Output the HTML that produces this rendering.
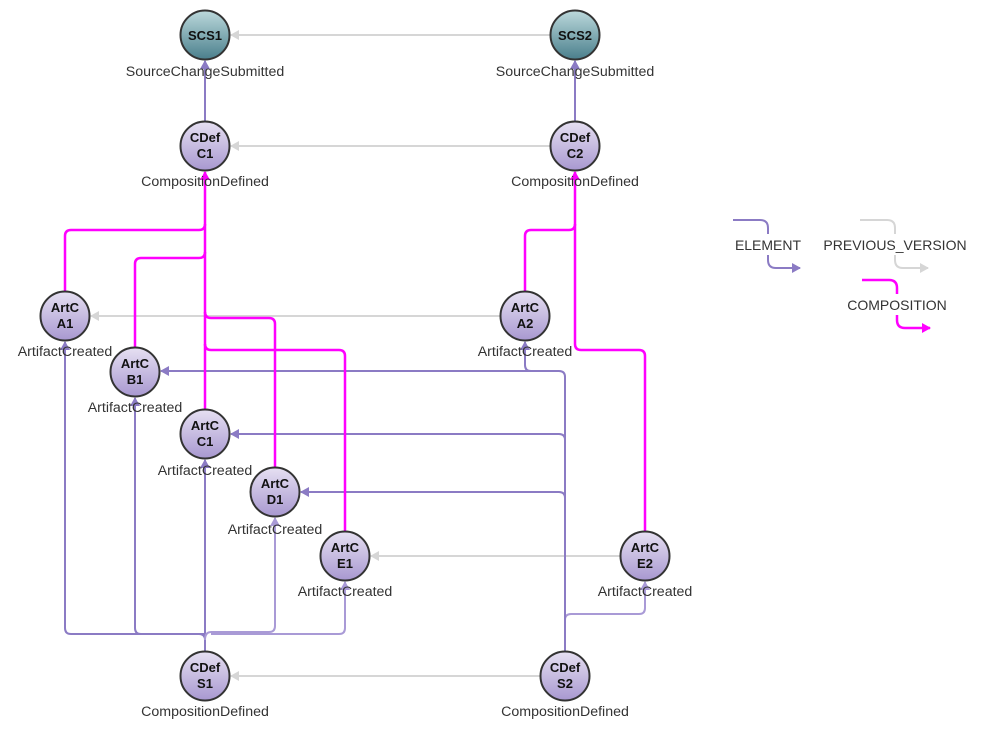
<!DOCTYPE html>
<html><head><meta charset="utf-8"><style>
html,body{margin:0;padding:0;background:#fff;width:985px;height:738px;overflow:hidden}
svg{display:block}
text{font-family:"Liberation Sans",Arial,sans-serif}
.lbl{font-size:14.2px;fill:#333;text-anchor:middle}
.nt{font-size:13px;font-weight:bold;fill:#111;text-anchor:middle}
.p{fill:none;stroke:#8b7bc4;stroke-width:2}
.pl{fill:none;stroke:#a99ad6;stroke-width:2}
.g{fill:none;stroke:#d6d6d6;stroke-width:2}
.m{fill:none;stroke:#ff00ff;stroke-width:2.5}
.leg{font-size:14px;fill:#333;text-anchor:middle}
</style></head><body>
<svg width="985" height="738" viewBox="0 0 985 738">
<defs>
<linearGradient id="lav" x1="0" y1="0" x2="0" y2="1"><stop offset="0" stop-color="#e6e0f2"/><stop offset="1" stop-color="#a898d0"/></linearGradient>
<linearGradient id="teal" x1="0" y1="0" x2="0" y2="1"><stop offset="0" stop-color="#bcd9dc"/><stop offset="1" stop-color="#4a7f8c"/></linearGradient>
<marker id="ap" markerWidth="10" markerHeight="10" refX="8" refY="5" orient="auto" markerUnits="userSpaceOnUse"><path d="M0,0 L9,5 L0,10 Z" fill="#8b7bc4"/></marker>
<marker id="apl" markerWidth="10" markerHeight="10" refX="8" refY="5" orient="auto" markerUnits="userSpaceOnUse"><path d="M0,0 L9,5 L0,10 Z" fill="#a99ad6"/></marker>
<marker id="ag" markerWidth="10" markerHeight="10" refX="8" refY="5" orient="auto" markerUnits="userSpaceOnUse"><path d="M0,0 L9,5 L0,10 Z" fill="#d6d6d6"/></marker>
<marker id="am" markerWidth="10" markerHeight="10" refX="8" refY="5" orient="auto" markerUnits="userSpaceOnUse"><path d="M0,0 L9,5 L0,10 Z" fill="#ff00ff"/></marker>
</defs>

<path class="g" d="M551,35 L231,35" marker-end="url(#ag)"/>
<path class="g" d="M551,146 L231,146" marker-end="url(#ag)"/>
<path class="g" d="M501,316 L91,316" marker-end="url(#ag)"/>
<path class="g" d="M621,556 L371,556" marker-end="url(#ag)"/>
<path class="g" d="M541,676 L231,676" marker-end="url(#ag)"/>

<path class="p" d="M205,122 L205,61" marker-end="url(#ap)"/>
<path class="p" d="M575,122 L575,61" marker-end="url(#ap)"/>
<path class="p" d="M205,652 L205,640 Q205,634 199,634 L71,634 Q65,634 65,628 L65,342" marker-end="url(#ap)"/>
<path class="p" d="M205,634 L141,634 Q135,634 135,628 L135,398" marker-end="url(#ap)"/>
<path class="p" d="M205,652 L205,460" marker-end="url(#ap)"/>
<path class="pl" d="M205,640 Q205,632 211,632 L269,632 Q275,632 275,626 L275,518" marker-end="url(#apl)"/>
<path class="pl" d="M211,634 L339,634 Q345,634 345,628 L345,582" marker-end="url(#apl)"/>
<path class="pl" d="M565,652 L565,620 Q565,614 571,614 L639,614 Q645,614 645,608 L645,582" marker-end="url(#apl)"/>
<path class="p" d="M565,652 L565,498 Q565,492 559,492 L301,492" marker-end="url(#ap)"/>
<path class="p" d="M565,500 L565,440 Q565,434 559,434 L231,434" marker-end="url(#ap)"/>
<path class="p" d="M565,440 L565,377 Q565,371 559,371 L161,371" marker-end="url(#ap)"/>
<path class="p" d="M531,371 Q525,371 525,365 L525,342" marker-end="url(#ap)"/>

<path class="m" d="M65,292 L65,236 Q65,230 71,230 L199,230 Q205,230 205,224" />
<path class="m" d="M135,348 L135,264 Q135,258 141,258 L199,258 Q205,258 205,252" />
<path class="m" d="M205,410 L205,172" marker-end="url(#am)"/>
<path class="m" d="M275,468 L275,324 Q275,318 269,318 L211,318 Q205,318 205,312" />
<path class="m" d="M345,532 L345,356 Q345,350 339,350 L211,350 Q205,350 205,344" />
<path class="m" d="M525,292 L525,236 Q525,230 531,230 L569,230 Q575,230 575,224" />
<path class="m" d="M645,532 L645,356 Q645,350 639,350 L581,350 Q575,350 575,344 L575,172" marker-end="url(#am)"/>

<g stroke="#333" stroke-width="2">
<circle cx="205" cy="35" r="24.5" fill="url(#teal)"/>
<circle cx="575" cy="35" r="24.5" fill="url(#teal)"/>
<circle cx="205" cy="146" r="24.5" fill="url(#lav)"/>
<circle cx="575" cy="146" r="24.5" fill="url(#lav)"/>
<circle cx="65" cy="316" r="24.5" fill="url(#lav)"/>
<circle cx="525" cy="316" r="24.5" fill="url(#lav)"/>
<circle cx="135" cy="372" r="24.5" fill="url(#lav)"/>
<circle cx="205" cy="434" r="24.5" fill="url(#lav)"/>
<circle cx="275" cy="492" r="24.5" fill="url(#lav)"/>
<circle cx="345" cy="556" r="24.5" fill="url(#lav)"/>
<circle cx="645" cy="556" r="24.5" fill="url(#lav)"/>
<circle cx="205" cy="676" r="24.5" fill="url(#lav)"/>
<circle cx="565" cy="676" r="24.5" fill="url(#lav)"/>
</g>
<text class="nt" x="205" y="40">SCS1</text>
<text class="nt" x="575" y="40">SCS2</text>
<text class="nt" x="205" y="142">CDef</text><text class="nt" x="205" y="158">C1</text>
<text class="nt" x="575" y="142">CDef</text><text class="nt" x="575" y="158">C2</text>
<text class="nt" x="65" y="312">ArtC</text><text class="nt" x="65" y="328">A1</text>
<text class="nt" x="525" y="312">ArtC</text><text class="nt" x="525" y="328">A2</text>
<text class="nt" x="135" y="368">ArtC</text><text class="nt" x="135" y="384">B1</text>
<text class="nt" x="205" y="430">ArtC</text><text class="nt" x="205" y="446">C1</text>
<text class="nt" x="275" y="488">ArtC</text><text class="nt" x="275" y="504">D1</text>
<text class="nt" x="345" y="552">ArtC</text><text class="nt" x="345" y="568">E1</text>
<text class="nt" x="645" y="552">ArtC</text><text class="nt" x="645" y="568">E2</text>
<text class="nt" x="205" y="672">CDef</text><text class="nt" x="205" y="688">S1</text>
<text class="nt" x="565" y="672">CDef</text><text class="nt" x="565" y="688">S2</text>

<text class="lbl" x="205" y="76">SourceChangeSubmitted</text>
<text class="lbl" x="575" y="76">SourceChangeSubmitted</text>
<text class="lbl" x="205" y="186">CompositionDefined</text>
<text class="lbl" x="575" y="186">CompositionDefined</text>
<text class="lbl" x="65" y="356">ArtifactCreated</text>
<text class="lbl" x="525" y="356">ArtifactCreated</text>
<text class="lbl" x="135" y="412">ArtifactCreated</text>
<text class="lbl" x="205" y="475">ArtifactCreated</text>
<text class="lbl" x="275" y="534">ArtifactCreated</text>
<text class="lbl" x="345" y="596">ArtifactCreated</text>
<text class="lbl" x="645" y="596">ArtifactCreated</text>
<text class="lbl" x="205" y="716">CompositionDefined</text>
<text class="lbl" x="565" y="716">CompositionDefined</text>

<path class="p" d="M733,220 L760,220 Q768,220 768,228 L768,234"/>
<path class="p" d="M768,255 L768,260 Q768,268 776,268 L800,268" marker-end="url(#ap)"/>
<text class="leg" x="768" y="250">ELEMENT</text>
<path class="g" d="M860,220 L887,220 Q895,220 895,228 L895,234"/>
<path class="g" d="M895,255 L895,260 Q895,268 903,268 L928,268" marker-end="url(#ag)"/>
<text class="leg" x="895" y="250">PREVIOUS_VERSION</text>
<path class="m" d="M862,280 L889,280 Q897,280 897,288 L897,294"/>
<path class="m" d="M897,315 L897,320 Q897,328 905,328 L930,328" marker-end="url(#am)"/>
<text class="leg" x="897" y="310">COMPOSITION</text>
</svg>
</body></html>
